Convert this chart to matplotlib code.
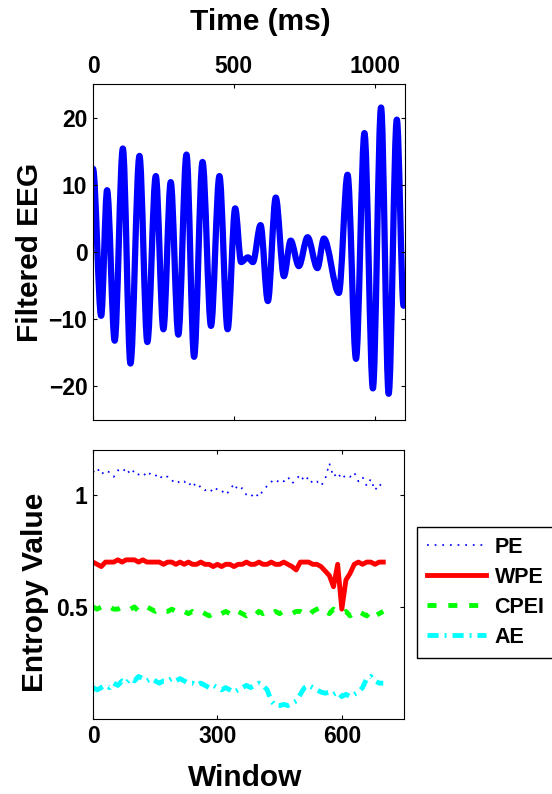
import numpy as np
import matplotlib
matplotlib.use('Agg')
from matplotlib import pyplot as plt
from matplotlib.path import Path
from matplotlib.patches import PathPatch

# ---- filtered EEG: turning points (time in ms, amplitude)
eeg_time = [0, 29, 50, 77, 106, 133, 165, 193, 223, 250, 276, 303, 332, 359,
            389, 419, 449, 478, 505, 526, 550, 568, 595, 621, 649, 678, 702,
            731, 762, 797, 820, 873, 904, 934, 964, 994, 1023, 1050, 1079, 1103]
eeg_value = [12.4, -9.5, 9.2, -13.2, 15.4, -16.6, 14.3, -13.4, 11.3, -11.5,
             10.4, -12.3, 14.5, -15.6, 13.4, -11.0, 11.3, -11.5, 6.5, -1.5,
             -0.8, -1.5, 4.0, -7.3, 8.1, -3.6, 1.7, -2.1, 2.2, -2.4, 2.0,
             -6.1, 11.5, -15.9, 17.7, -20.3, 21.5, -21.1, 19.7, -8.0]

# ---- entropy values, one reading every 10 windows (0 .. 700)
window = np.arange(0, 701, 10)
pe = [1.10, 1.12, 1.09, 1.11, 1.10, 1.08, 1.11, 1.10, 1.12, 1.09,
      1.11, 1.09, 1.10, 1.08, 1.10, 1.09, 1.07, 1.09, 1.08, 1.06,
      1.07, 1.05, 1.06, 1.04, 1.06, 1.03, 1.04, 1.02, 1.03, 1.01,
      1.03, 1.02, 1.00, 1.02, 1.05, 1.02, 1.03, 1.00, 0.99, 1.01,
      0.99, 1.02, 1.04, 1.06, 1.05, 1.07, 1.06, 1.08, 1.05, 1.07,
      1.09, 1.06, 1.08, 1.05, 1.06, 1.04, 1.07, 1.14, 1.08, 1.10,
      1.07, 1.09, 1.08, 1.10, 1.06, 1.08, 1.04, 1.07, 1.02, 1.05, 1.03]
wpe = [0.70, 0.69, 0.68, 0.70, 0.70, 0.70, 0.71, 0.70, 0.71, 0.71,
       0.71, 0.70, 0.71, 0.70, 0.70, 0.70, 0.70, 0.69, 0.70, 0.70,
       0.69, 0.70, 0.69, 0.70, 0.69, 0.69, 0.70, 0.69, 0.69, 0.68,
       0.69, 0.68, 0.69, 0.69, 0.68, 0.69, 0.69, 0.70, 0.69, 0.69,
       0.70, 0.69, 0.69, 0.70, 0.69, 0.69, 0.70, 0.69, 0.68, 0.665,
       0.70, 0.70, 0.70, 0.69, 0.69, 0.68, 0.66, 0.64, 0.59, 0.69,
       0.49, 0.62, 0.65, 0.69, 0.70, 0.69, 0.70, 0.70, 0.69, 0.70, 0.70]
cpei = [0.50, 0.49, 0.50, 0.49, 0.50, 0.49, 0.49, 0.50, 0.50, 0.49,
        0.50, 0.48, 0.49, 0.50, 0.49, 0.48, 0.49, 0.48, 0.48, 0.49,
        0.48, 0.47, 0.48, 0.47, 0.48, 0.47, 0.48, 0.47, 0.46, 0.47,
        0.48, 0.47, 0.48, 0.47, 0.46, 0.48, 0.47, 0.46, 0.47, 0.46,
        0.48, 0.47, 0.48, 0.47, 0.48, 0.47, 0.48, 0.48, 0.47, 0.48,
        0.48, 0.47, 0.46, 0.48, 0.49, 0.50, 0.48, 0.47, 0.49, 0.48,
        0.47, 0.48, 0.46, 0.48, 0.48, 0.47, 0.46, 0.48, 0.46, 0.47, 0.48]
ae = [0.14, 0.13, 0.14, 0.15, 0.14, 0.16, 0.15, 0.17, 0.16, 0.18,
      0.17, 0.19, 0.18, 0.17, 0.18, 0.17, 0.16, 0.17, 0.17, 0.18,
      0.17, 0.18, 0.17, 0.16, 0.16, 0.15, 0.16, 0.15, 0.14, 0.15,
      0.14, 0.13, 0.14, 0.13, 0.12, 0.13, 0.14, 0.15, 0.14, 0.15,
      0.16, 0.15, 0.13, 0.08, 0.06, 0.06, 0.065, 0.06, 0.07, 0.08,
      0.11, 0.14, 0.15, 0.14, 0.13, 0.12, 0.115, 0.12, 0.11, 0.12,
      0.10, 0.11, 0.10, 0.11, 0.12, 0.14, 0.18, 0.19, 0.17, 0.16, 0.16]

plt.rcParams['font.family'] = ['Liberation Sans', 'DejaVu Sans']
plt.rcParams['font.weight'] = 'bold'
plt.rcParams['axes.labelweight'] = 'bold'
plt.rcParams['lines.scale_dashes'] = False

fig = plt.figure(figsize=(5.52, 7.94), dpi=100)
ax1 = fig.add_axes([93 / 552, 1 - 420 / 794, 312 / 552, 336 / 794])
ax2 = fig.add_axes([93 / 552, 1 - 719 / 794, 311 / 552, 269 / 794])

# smooth curve through the turning points (flat tangent at each extremum)
verts = [(eeg_time[0], eeg_value[0])]
codes = [Path.MOVETO]
for i in range(1, len(eeg_time)):
    t0, v0 = eeg_time[i - 1], eeg_value[i - 1]
    t1, v1 = eeg_time[i], eeg_value[i]
    d = (t1 - t0) / 3.0
    verts += [(t0 + d, v0), (t1 - d, v1), (t1, v1)]
    codes += [Path.CURVE4] * 3
ax1.add_patch(PathPatch(Path(verts, codes), fill=False, edgecolor='b',
                        lw=4.5, capstyle='round', joinstyle='round'))
ax1.set_xlim(0, 1108)
ax1.set_ylim(-25, 25)
ax1.set_xticks([0, 500, 1000])
ax1.set_yticks([-20, -10, 0, 10, 20])
ax1.xaxis.set_label_position('top')
ax1.tick_params(labeltop=True, labelbottom=False)
ax1.set_xlabel('Time (ms)', fontsize=21.5)
ax1.xaxis.label.set_va('center')
ax1.xaxis.set_label_coords(0.535, 1.185)
ax1.set_ylabel('Filtered EEG', fontsize=21.5)
ax1.yaxis.label.set_va('center')
ax1.yaxis.set_label_coords(-0.202, 0.5)

# entropy curves
ax2.plot(window, pe, color='b', lw=1.2, dashes=(1.3, 4.2), label='PE')
ax2.plot(window, wpe, color='r', lw=3.5, label='WPE')
ax2.plot(window, cpei, color=(0, 1, 0), lw=3.5, dashes=(6.5, 8.5), label='CPEI')
ax2.plot(window, ae, color=(0, 1, 1), lw=3.5, dashes=(8, 4.3, 1.4, 4.3), label='AE')
ax2.set_xlim(0, 750)
ax2.set_ylim(0, 1.2)
ax2.set_xticks([0, 300, 600])
ax2.set_yticks([0.5, 1])
ax2.set_yticklabels(['0.5', '1'])
ax2.set_xlabel('Window', fontsize=21.5)
ax2.xaxis.label.set_va('center')
ax2.xaxis.set_label_coords(0.49, -0.218)
ax2.set_ylabel('Entropy Value', fontsize=21.5)
ax2.yaxis.label.set_va('center')
ax2.yaxis.set_label_coords(-0.186, 0.47)

for ax in (ax1, ax2):
    ax.tick_params(direction='in', top=True, right=True, length=3, width=0.8,
                   labelsize=16.5, pad=4)
    for s in ax.spines.values():
        s.set_linewidth(0.8)

handles, labels = ax2.get_legend_handles_labels()
leg = fig.legend(handles, labels, loc='upper left',
                 bbox_to_anchor=(417 / 552, 1 - 527 / 794),
                 bbox_transform=fig.transFigure, borderaxespad=0,
                 fancybox=False, framealpha=1, edgecolor='k',
                 handlelength=2.75, handletextpad=0.4, labelspacing=0.42,
                 borderpad=0.45, prop={'size': 15.5, 'weight': 'bold'})
leg.get_frame().set_linewidth(1.0)

fig.savefig('out.png', dpi=100)
